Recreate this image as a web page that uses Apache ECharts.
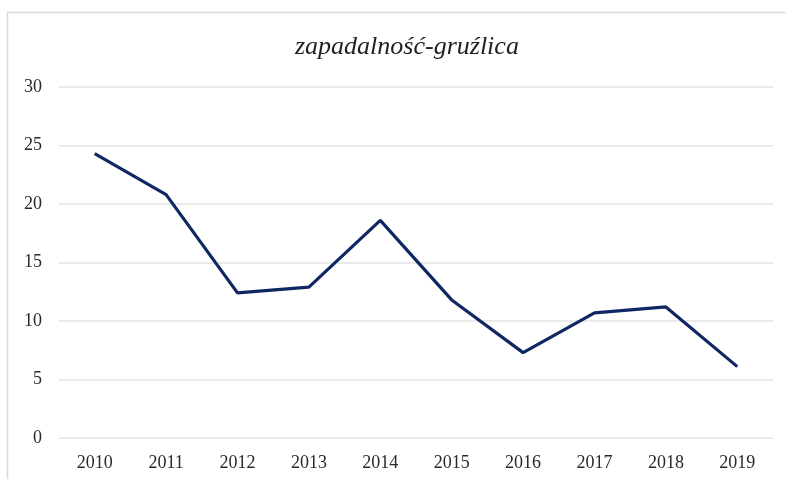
<!DOCTYPE html>
<html>
<head>
<meta charset="utf-8">
<script src="https://cdn.jsdelivr.net/npm/echarts@6/dist/echarts.min.js"></script>
<style>html,body{margin:0;padding:0;background:#fff;}#c{width:786px;height:479px;}</style>
</head>
<body>
<div id="c"></div>
<script>
const titleText = 'zapadalność-gruźlica';
const years = ['2010','2011','2012','2013','2014','2015','2016','2017','2018','2019'];
const values = [24.3, 20.8, 12.4, 12.9, 18.6, 11.8, 7.3, 10.7, 11.2, 6.1];
const yTicks = { min: 0, max: 30, interval: 5 };

const chart = echarts.init(document.getElementById('c'), null, { renderer: 'canvas' });
const serif = '"Liberation Serif", "DejaVu Serif", serif';
chart.setOption({
  animation: false,
  backgroundColor: '#ffffff',
  graphic: [{
    type: 'rect', silent: true,
    shape: { x: 7.5, y: 12.5, width: 820, height: 520 },
    style: { fill: 'none', stroke: '#d9d9d9', lineWidth: 1.5 }
  }],
  title: {
    text: titleText, left: 290, top: 29,
    textStyle: { fontFamily: serif, fontStyle: 'italic', fontWeight: 'normal', fontSize: 26, color: '#222' }
  },
  grid: { left: 59, right: 13, top: 87, bottom: 41, containLabel: false },
  xAxis: {
    type: 'category', data: years, boundaryGap: true,
    axisLine: { show: false }, axisTick: { show: false },
    axisLabel: { fontFamily: serif, fontSize: 18, color: '#2a2a2a', margin: 16 }
  },
  yAxis: {
    type: 'value', min: yTicks.min, max: yTicks.max, interval: yTicks.interval,
    axisLine: { show: false }, axisTick: { show: false },
    axisLabel: { fontFamily: serif, fontSize: 18, color: '#2a2a2a', margin: 17 },
    splitLine: { lineStyle: { color: '#e3e3e3', width: 1.5 } }
  },
  series: [{
    type: 'line', data: values, symbol: 'none',
    lineStyle: { color: '#0f2763', width: 3.2 }
  }]
});
</script>
</body>
</html>
